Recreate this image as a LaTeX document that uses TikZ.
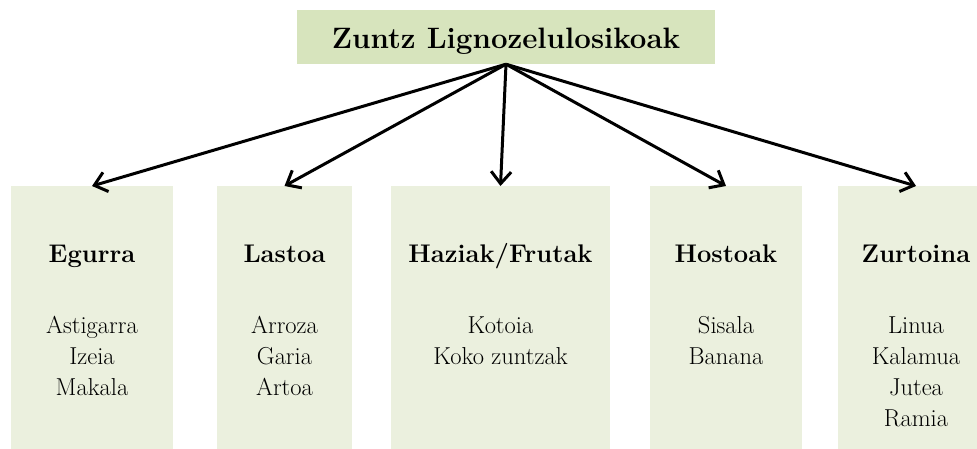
\documentclass[tikz,border=0pt]{standalone}
\usepackage{fontspec}
\usetikzlibrary{arrows.meta}
\definecolor{topgreen}{HTML}{D7E4BD}
\definecolor{boxgreen}{HTML}{EBF0DE}
\begin{document}
\begin{tikzpicture}[x=1pt,y=-1pt,
  topbox/.style={fill=topgreen, draw=none, minimum width=418pt, minimum height=54pt,
    inner sep=0pt, text height=22pt, text depth=0pt, font=\fontsize{29.5}{35}\selectfont\bfseries},
  catbox/.style={fill=boxgreen, draw=none, anchor=north, minimum height=270pt, inner sep=0pt},
  cattitle/.style={anchor=base, inner sep=0pt, font=\fontsize{25.5}{31}\selectfont\bfseries},
  item/.style={anchor=base, inner sep=0pt, font=\fontsize{24.5}{30}\selectfont},
  arr/.style={line width=3pt, -{Straight Barb[length=12pt,width=20pt]}}
]
\useasboundingbox (0,0) rectangle (977,448);
\clip (0,0) rectangle (977,448);

\node[topbox] (top) at (506,37) {Zuntz Lignozelulosikoak};

\node[catbox, minimum width=162pt] (b1) at (92,186) {};
\node[catbox, minimum width=135pt] (b2) at (284.5,186) {};
\node[catbox, minimum width=219pt] (b3) at (500.5,186) {};
\node[catbox, minimum width=152pt] (b4) at (726,186) {};
\node[catbox, minimum width=156pt] (b5) at (916,186) {};

\node[cattitle] (t1) at (92,262) {Egurra};
\node[cattitle] (t2) at (284.5,262) {Lastoa};
\node[cattitle] (t3) at (500.5,262) {Haziak/Frutak};
\node[cattitle] (t4) at (726,262) {Hostoak};
\node[cattitle] (t5) at (916,262) {Zurtoina};

\node[item] (i1a) at (92,333) {Astigarra};
\node[item] (i1b) at (92,364) {Izeia};
\node[item] (i1c) at (92,395) {Makala};

\node[item] (i2a) at (284.5,333) {Arroza};
\node[item] (i2b) at (284.5,364) {Garia};
\node[item] (i2c) at (284.5,395) {Artoa};

\node[item] (i3a) at (500.5,333) {Kotoia};
\node[item] (i3b) at (500.5,364) {Koko zuntzak};

\node[item] (i4a) at (726,333) {Sisala};
\node[item] (i4b) at (726,364) {Banana};

\node[item] (i5a) at (916,333) {Linua};
\node[item] (i5b) at (916,364) {Kalamua};
\node[item] (i5c) at (916,395) {Jutea};
\node[item] (i5d) at (916,426) {Ramia};

\foreach \b in {b1,b2,b3,b4,b5}
  \draw[arr] (top.south) -- (\b.north);
\end{tikzpicture}
\end{document}
